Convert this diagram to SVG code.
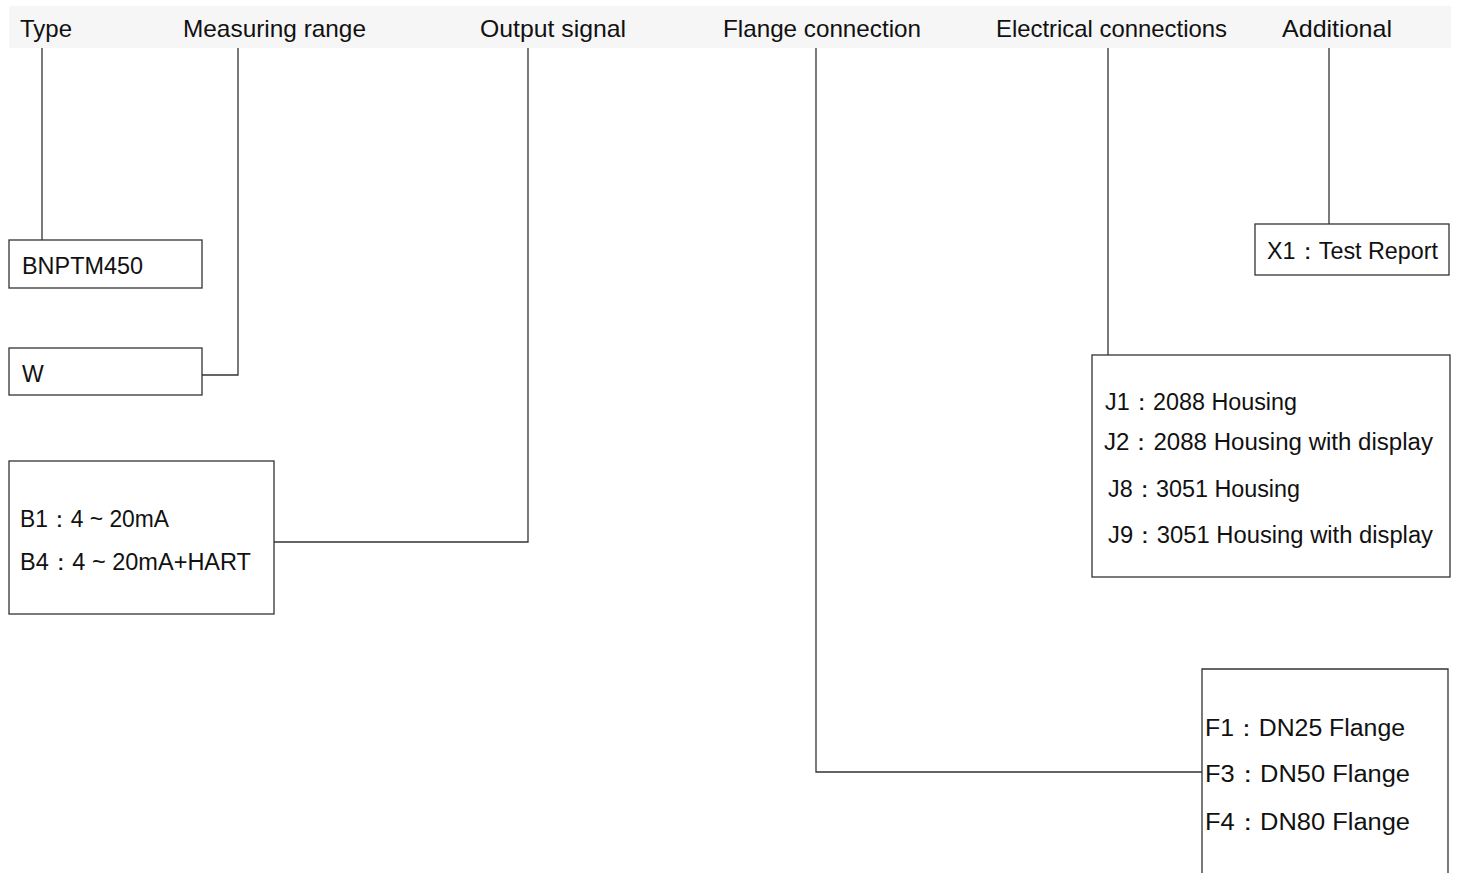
<svg xmlns="http://www.w3.org/2000/svg" width="1459" height="873" viewBox="0 0 1459 873">
<style>
.hd{font-family:"Liberation Sans",Arial,sans-serif;font-size:24px;fill:#111}
.t{font-family:"Liberation Sans",Arial,sans-serif;font-size:23px;fill:#111}
.bx{fill:#fff;stroke:#333;stroke-width:1.3}
.ln{fill:none;stroke:#333;stroke-width:1.3}
</style>
<rect x="0" y="0" width="1459" height="873" fill="#fff"/>
<g id="header">
<rect x="9" y="6" width="1442" height="42" fill="#f6f6f6"/>
<text class="hd" x="20" y="37" textLength="52" lengthAdjust="spacingAndGlyphs">Type</text>
<text class="hd" x="183" y="37" textLength="183" lengthAdjust="spacingAndGlyphs">Measuring range</text>
<text class="hd" x="480" y="37" textLength="146" lengthAdjust="spacingAndGlyphs">Output signal</text>
<text class="hd" x="723" y="37" textLength="198" lengthAdjust="spacingAndGlyphs">Flange connection</text>
<text class="hd" x="996" y="37" textLength="231" lengthAdjust="spacingAndGlyphs">Electrical connections</text>
<text class="hd" x="1282" y="37" textLength="110" lengthAdjust="spacingAndGlyphs">Additional</text>
</g>
<g id="connectors">
<path class="ln" d="M42 48V240"/>
<path class="ln" d="M238 48V375H202"/>
<path class="ln" d="M528 48V542H274"/>
<path class="ln" d="M816 48V772H1202"/>
<path class="ln" d="M1108 48V355"/>
<path class="ln" d="M1329 48V224"/>
</g>
<g id="type">
<rect class="bx" x="9" y="240" width="193" height="48"/>
<text class="t" x="22" y="274" textLength="121" lengthAdjust="spacingAndGlyphs">BNPTM450</text>
</g>
<g id="range">
<rect class="bx" x="9" y="348" width="193" height="47"/>
<text class="t" x="22" y="382">W</text>
</g>
<g id="output">
<rect class="bx" x="9" y="461" width="265" height="153"/>
<text class="t" x="20" y="527" textLength="149" lengthAdjust="spacingAndGlyphs">B1：4 ~ 20mA</text>
<text class="t" x="20" y="570" textLength="231" lengthAdjust="spacingAndGlyphs">B4：4 ~ 20mA+HART</text>
</g>
<g id="additional">
<rect class="bx" x="1255" y="224" width="194" height="51"/>
<text class="t" x="1267" y="259" textLength="171" lengthAdjust="spacingAndGlyphs">X1：Test Report</text>
</g>
<g id="electrical">
<rect class="bx" x="1092" y="355" width="358" height="222"/>
<text class="t" x="1105" y="410" textLength="192" lengthAdjust="spacingAndGlyphs">J1：2088 Housing</text>
<text class="t" x="1104" y="450" textLength="329" lengthAdjust="spacingAndGlyphs">J2：2088 Housing with display</text>
<text class="t" x="1108" y="497" textLength="192" lengthAdjust="spacingAndGlyphs">J8：3051 Housing</text>
<text class="t" x="1108" y="543" textLength="325" lengthAdjust="spacingAndGlyphs">J9：3051 Housing with display</text>
</g>
<g id="flange">
<path class="bx" d="M1202 880V669H1448V880"/>
<text class="t" x="1205" y="736" textLength="200" lengthAdjust="spacingAndGlyphs">F1：DN25 Flange</text>
<text class="t" x="1205" y="782" textLength="205" lengthAdjust="spacingAndGlyphs">F3：DN50 Flange</text>
<text class="t" x="1205" y="830" textLength="205" lengthAdjust="spacingAndGlyphs">F4：DN80 Flange</text>
</g>
</svg>
